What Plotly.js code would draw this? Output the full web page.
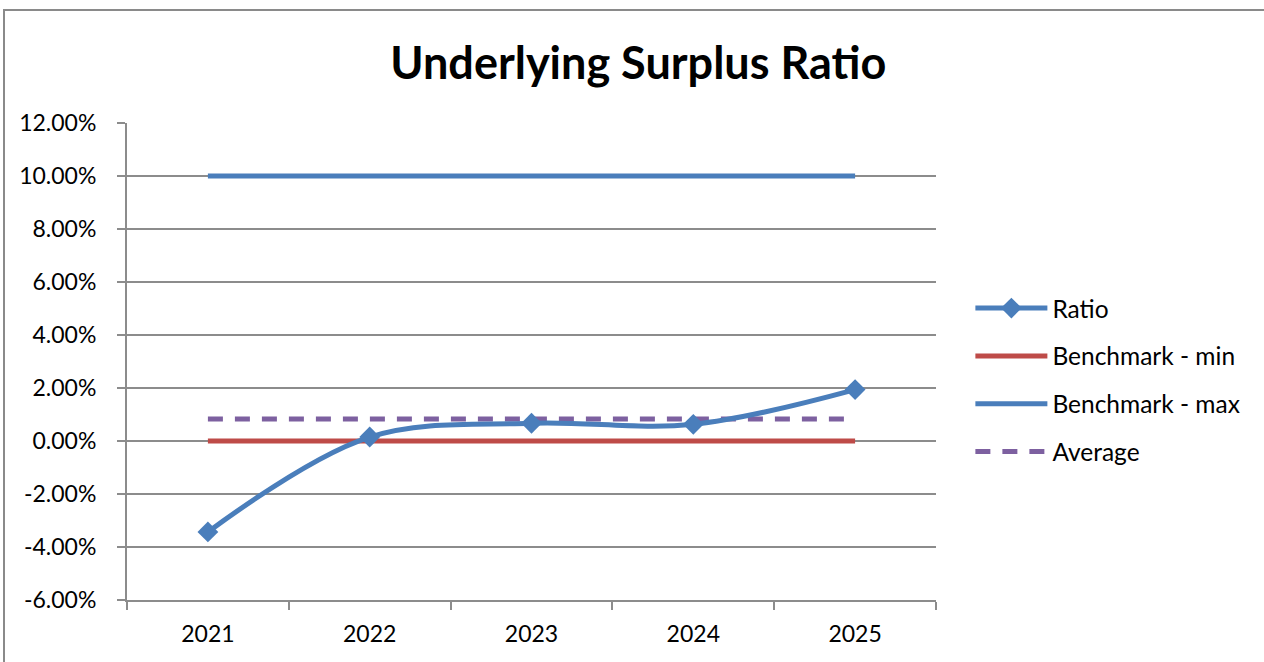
<!DOCTYPE html>
<html>
<head>
<meta charset="utf-8">
<script src="https://cdn.plot.ly/plotly-3.0.1.min.js"></script>
<style>
  html, body { margin: 0; padding: 0; background: #ffffff; overflow: hidden; }
  #chart { position: absolute; left: 0; top: 0; width: 1264px; height: 662px; }
  #frame { position: absolute; left: 3px; top: 9px; width: 1400px; height: 800px;
           border: 2px solid #8a8a8a; pointer-events: none; box-sizing: border-box; }
</style>
</head>
<body>
<div id="chart"></div>
<div id="frame"></div>
<script>
// Financial years shown on the category axis
const years = ['2021', '2022', '2023', '2024', '2025'];

// Underlying surplus ratio per year (fractions, shown as %)
const ratio = [-0.0343, 0.0015, 0.0067, 0.0063, 0.0194];
// Benchmark band and average
const benchmarkMin = [0, 0, 0, 0, 0];
const benchmarkMax = [0.10, 0.10, 0.10, 0.10, 0.10];
const average = [0.0083, 0.0083, 0.0083, 0.0083, 0.0083];

// Y axis ticks, labelled with a plain hyphen for negatives
const yTickVals = [-0.06, -0.04, -0.02, 0, 0.02, 0.04, 0.06, 0.08, 0.10, 0.12];
const yTickLabels = ['-6.00%', '-4.00%', '-2.00%', '0.00%', '2.00%', '4.00%',
                     '6.00%', '8.00%', '10.00%', '12.00%'];

const FONT = 'Lato, "Open Sans", sans-serif';
const GRID = '#8c8c8c';

const ratioTrace = {
  name: 'Ratio', x: years, y: ratio, type: 'scatter', mode: 'lines+markers',
  line: { color: '#4a7ebb', width: 5, shape: 'spline', smoothing: 1 },
  marker: { symbol: 'diamond', size: 16, color: '#4a7ebb' },
  legendgroup: 'a', legendrank: 1
};
const minTrace = {
  name: 'Benchmark - min', x: years, y: benchmarkMin, type: 'scatter', mode: 'lines',
  line: { color: '#be4b48', width: 5 }, legendgroup: 'b', legendrank: 2
};
const maxTrace = {
  name: 'Benchmark - max', x: years, y: benchmarkMax, type: 'scatter', mode: 'lines',
  line: { color: '#4a7ebb', width: 5 }, legendgroup: 'c', legendrank: 3
};
const avgTrace = {
  name: 'Average', x: years, y: average, type: 'scatter', mode: 'lines',
  line: { color: '#7d60a0', width: 5, dash: '15px,12px' }, legendgroup: 'd', legendrank: 4
};

// Draw order: benchmark lines under the ratio curve
const data = [minTrace, maxTrace, avgTrace, ratioTrace];

const layout = {
  width: 1264, height: 662,
  margin: { l: 127, r: 328, t: 123, b: 62, pad: 0 },
  paper_bgcolor: '#ffffff', plot_bgcolor: '#ffffff',
  font: { family: FONT, size: 23, color: '#000000' },
  showlegend: true,
  title: {
    text: '<b>Underlying Surplus Ratio</b>',
    font: { family: FONT, size: 45, color: '#000000' },
    x: 0.505, xanchor: 'center', xref: 'container',
    y: 0.905, yanchor: 'middle', yref: 'container'
  },
  xaxis: {
    type: 'category',
    range: [-0.5, 4.5],
    showgrid: false, zeroline: false,
    showline: true, linecolor: GRID, linewidth: 2,
    ticks: 'outside', tickson: 'boundaries', ticklen: 8, tickwidth: 2, tickcolor: GRID,
    ticklabelstandoff: 12,
    tickfont: { family: FONT, size: 23, color: '#000000' },
    fixedrange: true
  },
  yaxis: {
    range: [-0.06, 0.12],
    tickmode: 'array', tickvals: yTickVals, ticktext: yTickLabels,
    showgrid: true, gridcolor: GRID, gridwidth: 2,
    zeroline: false,
    showline: true, linecolor: GRID, linewidth: 2,
    ticks: 'outside', ticklen: 8, tickwidth: 2, tickcolor: GRID,
    ticklabelstandoff: 16,
    tickfont: { family: FONT, size: 23, color: '#000000' },
    fixedrange: true
  },
  legend: {
    x: 1.0425, xref: 'paper', xanchor: 'left',
    y: 0.461, yanchor: 'middle',
    traceorder: 'grouped', tracegroupgap: 13,
    itemwidth: 72,
    font: { family: FONT, size: 24.5, color: '#000000' },
    bgcolor: 'rgba(0,0,0,0)'
  }
};

Plotly.newPlot('chart', data, layout, { staticPlot: true, displayModeBar: false });
</script>
</body>
</html>
